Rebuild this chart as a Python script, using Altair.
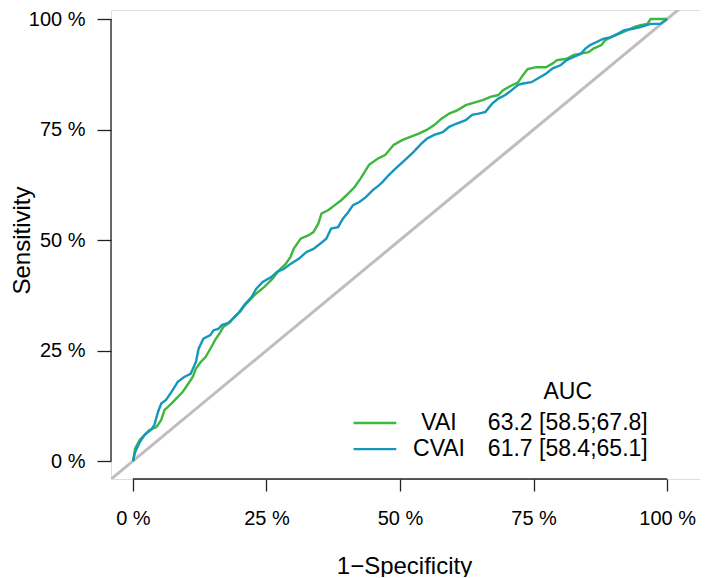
import altair as alt
import pandas as pd

# ---- data (percent) ----
vai_fpr = [0, 0.1, 0.4, 1.3, 2.2, 3.1, 4.4, 5.3, 5.9, 7.2, 8.1, 9.3, 10.2, 11.2, 11.8, 12.7, 13.6, 14.5, 15.4, 16.4,
           16.9, 18.2, 19.1, 20.0, 21.0, 22.8, 24.6, 26.1, 27.4, 28.6, 29.5, 30.1, 31.4, 32.9, 33.8, 34.7, 35.3, 36.6, 37.8, 39.0,
           40.3, 41.5, 42.6, 44.2, 45.8, 47.2, 48.8, 50.4, 51.8, 53.4, 55.0, 56.4, 57.7, 59.2, 60.8, 62.3, 64.2, 65.6, 66.9, 68.4,
           69.3, 70.6, 72.1, 73.0, 73.9, 75.5, 77.3, 78.5, 79.4, 81.2, 82.5, 83.5, 85.3, 86.2, 87.7, 88.4, 89.5, 91.1, 92.6, 93.9,
           95.0, 96.3, 96.9, 100]
vai_tpr = [0, 0.2, 2.8, 4.8, 5.9, 7.0, 7.7, 9.3, 11.5, 13.0, 14.1, 15.6, 17.2, 19.0, 20.9, 22.4, 23.5, 25.4, 27.4, 29.2,
           30.3, 31.4, 32.8, 33.7, 35.3, 37.6, 39.4, 41.2, 43.2, 44.6, 46.2, 48.0, 50.3, 51.1, 51.8, 53.7, 56.0, 56.8, 57.9, 59.0,
           60.5, 62.0, 63.9, 67.0, 68.4, 69.2, 71.5, 72.6, 73.3, 74.0, 74.9, 76.0, 77.4, 78.6, 79.4, 80.5, 81.2, 81.7, 82.4, 82.8,
           83.9, 84.8, 85.7, 87.3, 88.7, 89.1, 89.1, 89.9, 90.7, 91.0, 91.9, 92.1, 92.5, 93.3, 94.1, 95.2, 95.9, 96.7, 97.5, 98.2,
           98.6, 98.9, 100, 100]
cvai_fpr = [0, 0.4, 1.3, 2.2, 3.5, 4.0, 4.7, 5.3, 6.2, 7.2, 8.4, 9.6, 10.8, 11.8, 12.3, 13.2, 14.5, 15.1, 16.0, 16.7,
            17.8, 19.1, 20.0, 21.0, 22.2, 23.1, 24.3, 25.9, 27.0, 28.3, 29.5, 31.1, 32.5, 33.8, 35.1, 36.2, 37.1, 38.4, 39.3, 40.3,
            41.2, 42.4, 43.6, 44.9, 46.1, 46.7, 47.9, 49.1, 50.9, 52.5, 54.0, 55.0, 56.4, 58.0, 59.2, 60.5, 62.3, 63.5, 64.7, 66.0,
            67.2, 68.4, 69.7, 70.9, 72.1, 73.0, 74.6, 75.7, 77.3, 78.5, 80.1, 81.2, 82.5, 83.8, 84.7, 85.6, 86.8, 88.0, 89.5, 90.8,
            92.0, 93.6, 95.0, 96.9, 98.7, 100]
cvai_tpr = [0, 2.0, 4.3, 5.9, 7.2, 8.1, 11.1, 13.0, 13.8, 15.6, 17.9, 19.0, 19.7, 22.4, 25.4, 27.7, 28.5, 29.6, 29.9, 30.8,
            31.2, 32.6, 33.9, 35.5, 37.1, 39.0, 40.5, 41.6, 42.8, 43.5, 44.6, 45.8, 47.3, 48.0, 49.2, 50.3, 52.6, 52.9, 54.8, 56.3,
            57.9, 58.6, 59.7, 61.3, 62.4, 63.1, 64.7, 66.1, 68.1, 69.9, 71.8, 72.9, 73.8, 74.4, 75.6, 76.3, 77.1, 78.3, 78.6, 79.0,
            80.8, 82.0, 82.8, 83.9, 85.1, 85.4, 85.7, 86.5, 87.6, 88.8, 89.6, 90.7, 91.4, 92.1, 93.3, 94.1, 94.8, 95.5, 95.9, 96.7,
            97.5, 97.8, 98.2, 98.9, 98.9, 100]

series_names = ["VAI", "CVAI"]
auc_labels = ["63.2 [58.5;67.8]", "61.7 [58.4;65.1]"]
auc_header = "AUC"
tick_values = [0, 25, 50, 75, 100]
x_title = "1\u2212Specificity"
y_title = "Sensitivity"

# ---- styling / layout ----
series_colors = ["#3db73d", "#1597bd"]
FONT = "Liberation Sans"
XDOM = [-4.1, 106.15]
YDOM = [-4.07, 102.04]
W, H = 589, 469
LEG_ROW_Y = [8.6, 2.7]
LEG_HDR_Y = 15.6
LEG_LINE_X = [41.3, 49.3]
LEG_NAME_X = 57.3
LEG_AUC_X = 81.4
LABEL_FS = 20
TITLE_FS = 24
LEG_FS = 23

rows = []
for name, xs, ys in [("VAI", vai_fpr, vai_tpr), ("CVAI", cvai_fpr, cvai_tpr)]:
    for i, (a, b) in enumerate(zip(xs, ys)):
        rows.append({"fpr": a, "tpr": b, "series": name, "ord": i})
curves = pd.DataFrame(rows)

diag = pd.DataFrame({"fpr": [-5, 110], "tpr": [-5, 110]})

legend = pd.DataFrame({
    "series": series_names,
    "auc": auc_labels,
    "y": LEG_ROW_Y,
    "x1": [LEG_LINE_X[0]] * 2,
    "x2": [LEG_LINE_X[1]] * 2,
})

xscale = alt.Scale(domain=XDOM, nice=False, zero=False)
yscale = alt.Scale(domain=YDOM, nice=False, zero=False)
cscale = alt.Scale(domain=series_names, range=series_colors)

xaxis = alt.Axis(values=tick_values, labelExpr="datum.value + ' %'", domain=False, grid=False,
                 tickSize=12, tickColor="#222222", tickWidth=1.3, labelFont=FONT, labelFontSize=LABEL_FS,
                 labelColor="black", labelPadding=17, labelFlush=False, labelOverlap=False,
                 title=x_title, titleFont=FONT, titleFontSize=TITLE_FS, titleFontWeight="normal",
                 titleColor="black", titleX=293, titleY=87, titleBaseline="middle", titleAlign="center")
yaxis = alt.Axis(values=tick_values, labelExpr="datum.value + ' %'", domain=False, grid=False,
                 tickSize=14, tickColor="#222222", tickWidth=1.3, labelFont=FONT, labelFontSize=LABEL_FS,
                 labelColor="black", labelPadding=12, labelFlush=False, labelOverlap=False,
                 title=y_title, titleFont=FONT, titleFontSize=TITLE_FS, titleFontWeight="normal",
                 titleColor="black", titleX=-89, titleY=230, titleAngle=270,
                 titleBaseline="middle", titleAlign="center")

base_diag = alt.Chart(diag).mark_line(color="#bebebe", strokeWidth=3, clip=True).encode(
    x=alt.X("fpr:Q", scale=xscale, axis=xaxis),
    y=alt.Y("tpr:Q", scale=yscale, axis=yaxis),
)

lines = alt.Chart(curves).mark_line(strokeWidth=2.4, clip=True).encode(
    x="fpr:Q", y="tpr:Q",
    color=alt.Color("series:N", scale=cscale, legend=None),
    detail="series:N",
    order="ord:Q",
)

yaxis_line = alt.Chart(pd.DataFrame({"a": [0]})).mark_rule(color="#222222", strokeWidth=1.3).encode(
    x=alt.datum(XDOM[0]), y=alt.datum(tick_values[0]), y2=alt.datum(tick_values[-1]))
xaxis_line = alt.Chart(pd.DataFrame({"a": [0]})).mark_rule(color="#222222", strokeWidth=1.3).encode(
    y=alt.datum(YDOM[0]), x=alt.datum(tick_values[0]), x2=alt.datum(tick_values[-1]))

leg_lines = alt.Chart(legend).mark_rule(strokeWidth=2.4).encode(
    x="x1:Q", x2="x2:Q", y="y:Q",
    color=alt.Color("series:N", scale=cscale, legend=None))
leg_names = alt.Chart(legend).mark_text(font=FONT, fontSize=LEG_FS, align="center", baseline="middle",
                                        color="black").encode(
    x=alt.datum(LEG_NAME_X), y="y:Q", text="series:N")
leg_auc = alt.Chart(legend).mark_text(font=FONT, fontSize=LEG_FS, align="center", baseline="middle",
                                      color="black").encode(
    x=alt.datum(LEG_AUC_X), y="y:Q", text="auc:N")
leg_hdr = alt.Chart(pd.DataFrame({"t": [auc_header]})).mark_text(
    font=FONT, fontSize=LEG_FS, align="center", baseline="middle", color="black").encode(
    x=alt.datum(LEG_AUC_X), y=alt.datum(LEG_HDR_Y), text="t:N")

chart = alt.layer(base_diag, lines, yaxis_line, xaxis_line, leg_lines, leg_names, leg_auc, leg_hdr).properties(
    width=W, height=H,
    autosize=alt.AutoSizeParams(type="none"),
    padding={"left": 103, "top": 2, "right": 0, "bottom": 98},
).configure_view(stroke=None).configure(background="white")

chart.save("out.html", embed_options={"renderer": "svg", "actions": False})
